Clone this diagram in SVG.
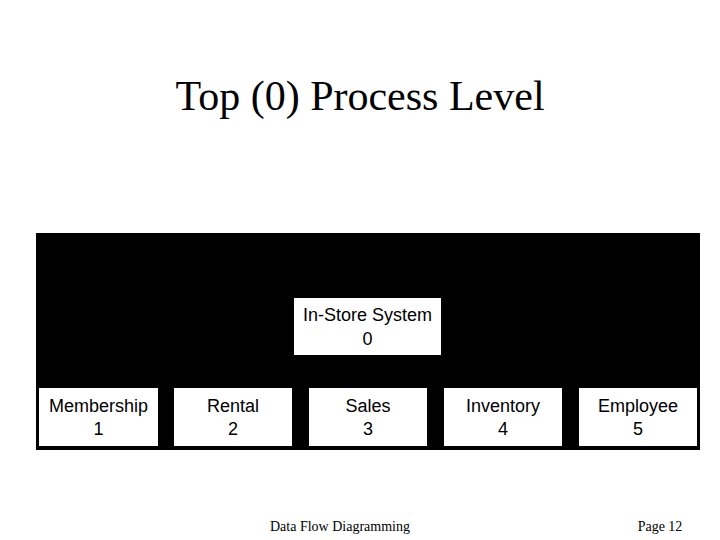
<svg xmlns="http://www.w3.org/2000/svg" width="720" height="540" viewBox="0 0 720 540">
<style>
.b{fill:#fff;stroke:none}
.t{font-family:"Liberation Sans",Arial,sans-serif;font-size:18px;text-anchor:middle;fill:#000}
.s{font-family:"Liberation Serif","Times New Roman",serif;fill:#000}
</style>
<rect width="720" height="540" fill="#fff"/>
<text class="s" x="360" y="110" font-size="42" text-anchor="middle">Top (0) Process Level</text>
<rect x="36" y="233" width="664" height="217" fill="#000"/>
<g id="connectors"></g>
<g id="n0"><rect class="b" x="294" y="298" width="147" height="57"/><text class="t" x="367.5" y="321">In-Store System</text><text class="t" x="367.5" y="345">0</text></g>
<g id="n1"><rect class="b" x="39" y="388" width="119" height="58"/><text class="t" x="98.5" y="412">Membership</text><text class="t" x="98.5" y="435">1</text></g>
<g id="n2"><rect class="b" x="174" y="388" width="118" height="58"/><text class="t" x="233" y="412">Rental</text><text class="t" x="233" y="435">2</text></g>
<g id="n3"><rect class="b" x="309" y="388" width="118" height="58"/><text class="t" x="368" y="412">Sales</text><text class="t" x="368" y="435">3</text></g>
<g id="n4"><rect class="b" x="444" y="388" width="118" height="58"/><text class="t" x="503" y="412">Inventory</text><text class="t" x="503" y="435">4</text></g>
<g id="n5"><rect class="b" x="579" y="388" width="118" height="58"/><text class="t" x="638" y="412">Employee</text><text class="t" x="638" y="435">5</text></g>
<text class="s" x="340" y="531" font-size="14" text-anchor="middle">Data Flow Diagramming</text>
<text class="s" x="660" y="531" font-size="14" text-anchor="middle">Page 12</text>
</svg>
